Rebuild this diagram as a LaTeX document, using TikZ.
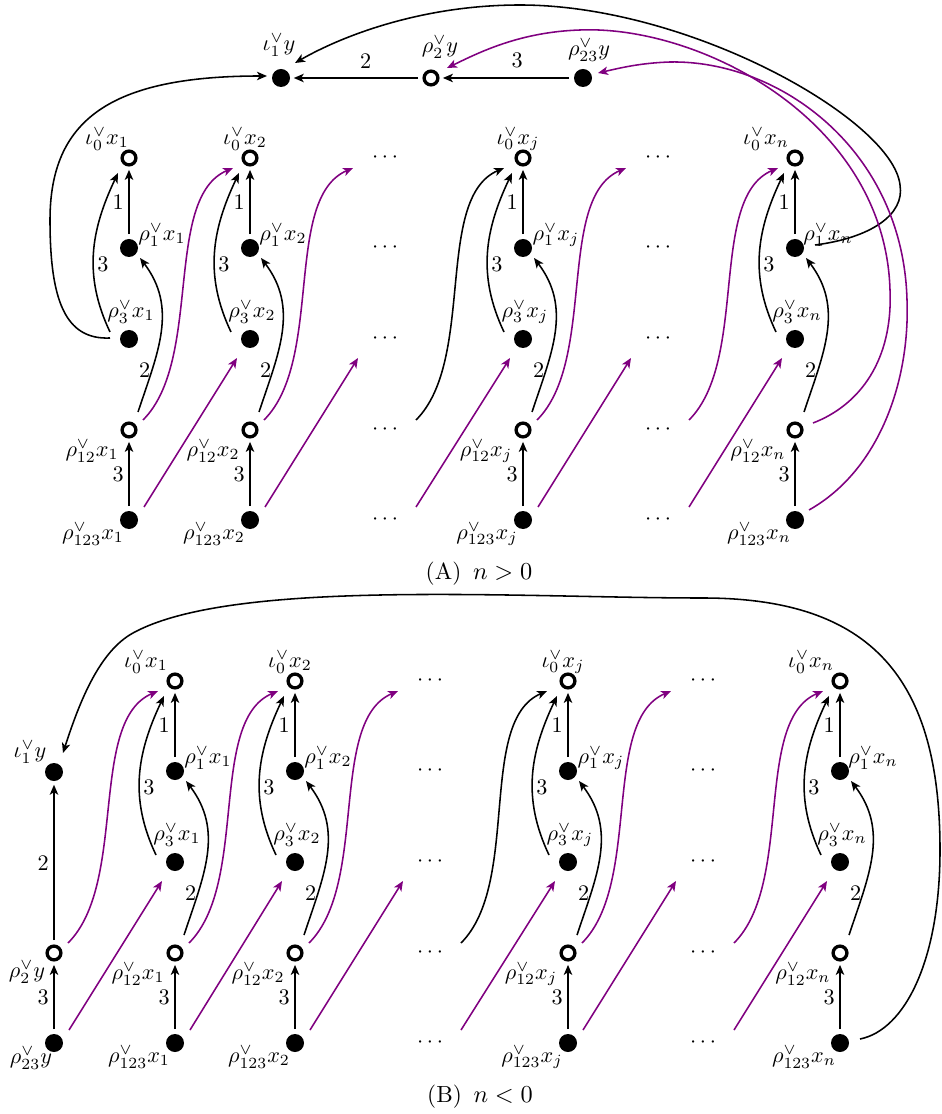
\documentclass[tikz,border=0pt]{standalone}
\usetikzlibrary{calc,arrows.meta}
\definecolor{mypurple}{RGB}{128,0,128}
\begin{document}
\begin{tikzpicture}[x=0.45pt,y=-0.45pt,
  fdot/.style={circle,fill=black,inner sep=0pt,minimum size=8.1pt},
  odot/.style={circle,draw=black,line width=1.5pt,fill=white,inner sep=0pt,minimum size=6.2pt},
  lab/.style={inner sep=0pt},
  dotsn/.style={inner sep=0pt},
  arr/.style={-{Stealth[length=4.5pt,width=3.8pt,inset=1.2pt]},line width=0.7pt},
  blk/.style={arr,black},
  pur/.style={arr,mypurple},
  elab/.style={inner sep=2pt,text=black},
  sh/.style={shorten <=2pt,shorten >=1.5pt},
  captxt/.style={font=\fontsize{10.5}{13}\selectfont},
]
\fill[white] (0,0) rectangle (941,1114);
\useasboundingbox (0,0) rectangle (941,1114);

% ---------- regular columns ----------
\foreach \pp/\yo/\cc/\xx/\io in {A/0/1/129/-22,A/0/2/250/-5,A/0/j/523/-5,A/0/n/795/-29,B/523/1/175/-29,B/523/2/295/-5,B/523/j/568/-5,B/523/n/840/-29}{
  \node[odot] (\pp-i0-\cc) at (\xx,158+\yo) {};
  \node[fdot] (\pp-r1-\cc) at (\xx,248+\yo) {};
  \node[fdot] (\pp-r3-\cc) at (\xx,339+\yo) {};
  \node[odot] (\pp-r12-\cc) at (\xx,430+\yo) {};
  \node[fdot] (\pp-r123-\cc) at (\xx,520+\yo) {};
  \node[lab] (\pp-i0-\cc-l) at ($(\pp-i0-\cc)+(\io,-19)$) {$\iota_0^\vee x_{\cc}$};
  \node[lab] (\pp-r1-\cc-l) at ($(\pp-r1-\cc)+(33,-13)$) {$\rho_1^\vee x_{\cc}$};
  \node[lab] (\pp-r3-\cc-l) at ($(\pp-r3-\cc)+(2,-27)$) {$\rho_3^\vee x_{\cc}$};
  \node[lab] (\pp-r12-\cc-l) at ($(\pp-r12-\cc)+(-37,21)$) {$\rho_{12}^\vee x_{\cc}$};
  \node[lab] (\pp-r123-\cc-l) at ($(\pp-r123-\cc)+(-36,14)$) {$\rho_{123}^\vee x_{\cc}$};
  \draw[blk,sh] (\pp-r1-\cc) -- node[elab,left] (\pp-e1-\cc) {1} (\pp-i0-\cc);
  \draw[blk] ($(\pp-r3-\cc)+(-19,-7)$) .. controls +(-27,-57) and +(-27,57) .. ($(\pp-i0-\cc)+(-11,15)$)
     node[elab,pos=0.42,right,inner sep=1.5pt] (\pp-e3-\cc) {3};
  \draw[blk] ($(\pp-r12-\cc)+(9,-18)$) .. controls +(20,-60) and +(38,50) .. ($(\pp-r1-\cc)+(11,10)$)
     node[elab,pos=0.25,left,inner sep=0.5pt] (\pp-e2-\cc) {2};
  \draw[blk,sh] (\pp-r123-\cc) -- node[elab,left] (\pp-e4-\cc) {3} (\pp-r12-\cc);
}

% ---------- dots columns ----------
\foreach \pp/\yo/\cc/\xx in {A/0/d1/385,A/0/d2/658,B/523/d1/430,B/523/d2/703}{
  \node[dotsn] (\pp-i0-\cc) at (\xx,158+\yo) {$\cdots$};
  \node[dotsn] (\pp-r1-\cc) at (\xx,248+\yo) {$\cdots$};
  \node[dotsn] (\pp-r3-\cc) at (\xx,339+\yo) {$\cdots$};
  \node[dotsn] (\pp-r12-\cc) at (\xx,430+\yo) {$\cdots$};
  \node[dotsn] (\pp-r123-\cc) at (\xx,520+\yo) {$\cdots$};
}

% ---------- edges between columns ----------
\foreach \pp/\ff/\tt/\sa/\sb/\ea/\eb/\cl in {
  A/1/2/14/15/-17/-13/mypurple,
  A/2/d1/14/15/-32/-27/mypurple,
  A/d1/j/31/31/-19/-13/black,
  A/j/d2/14/15/-32/-27/mypurple,
  A/d2/n/31/31/-17/-13/mypurple,
  B/1/2/14/15/-17/-13/mypurple,
  B/2/d1/14/15/-32/-27/mypurple,
  B/d1/j/31/31/-21/-13/black,
  B/j/d2/14/15/-32/-27/mypurple,
  B/d2/n/31/31/-17/-13/mypurple}{
  \draw[arr,color=\cl] ($(\pp-r12-\ff)+(\sa,-10)$) .. controls +(60,-60) and +(-70,30) .. ($(\pp-i0-\tt)+(\ea,10)$);
  \draw[pur] ($(\pp-r123-\ff)+(\sb,-13)$) -- ($(\pp-r3-\tt)+(\eb,19)$);
}

% ---------- (A) top row ----------
\node[fdot] (A-iy) at (281,78) {};
\node[odot] (A-r2y) at (431,78) {};
\node[fdot] (A-r23y) at (583,78) {};
\node[lab] (A-iy-l) at ($(A-iy)+(-2,-33)$) {$\iota_1^\vee y$};
\node[lab] (A-r2y-l) at ($(A-r2y)+(9,-31)$) {$\rho_2^\vee y$};
\node[lab] (A-r23y-l) at ($(A-r23y)+(6,-28)$) {$\rho_{23}^\vee y$};
\draw[blk,sh] (A-r2y) -- node[elab,above,pos=0.43,inner sep=4pt] (A-ey2) {2} (A-iy);
\draw[blk,sh] (A-r23y) -- node[elab,above,pos=0.42,inner sep=4pt] (A-ey3) {3} (A-r2y);

% long arcs of (A)
\draw[blk] ($(A-r3-1)+(-19,-1)$) .. controls (65,340) and (50,300) .. (50,220)
   .. controls (50,120) and (110,76) .. ($(A-iy)+(-14,-2)$);
\draw[blk] ($(A-r1-n)+(20,-3)$) .. controls (870,238) and (905,215) .. (900,185)
   .. controls (893,120) and (690,5) .. (520,5)
   .. controls (420,5) and (340,37) .. ($(A-iy)+(14,-15)$);
\draw[pur] ($(A-r12-n)+(18,-7)$) .. controls (860,405) and (893,360) .. (890,290)
   .. controls (885,120) and (700,25) .. (580,30)
   .. controls (520,32) and (480,52) .. ($(A-r2y)+(16,-10)$);
\draw[pur] ($(A-r123-n)+(14,-10)$) .. controls (880,470) and (910,380) .. (907,300)
   .. controls (903,150) and (780,60) .. (670,62)
   .. controls (640,63) and (620,68) .. ($(A-r23y)+(15,-5)$);

\node[captxt] (capA) at (479,574) {(A)\enspace$n>0$};

% ---------- (B) y column ----------
\node[fdot] (B-iy) at (54,772) {};
\node[odot] (B-r2y) at (54,953) {};
\node[fdot] (B-r23y) at (54,1043) {};
\node[lab] (B-iy-l) at ($(B-iy)+(-24,-20)$) {$\iota_1^\vee y$};
\node[lab] (B-r2y-l) at ($(B-r2y)+(-27,19)$) {$\rho_2^\vee y$};
\node[lab] (B-r23y-l) at ($(B-r23y)+(-23,15)$) {$\rho_{23}^\vee y$};
\draw[blk,sh] (B-r2y) -- node[elab,left] (B-ey2) {2} (B-iy);
\draw[blk,sh] (B-r23y) -- node[elab,left] (B-ey3) {3} (B-r2y);
\draw[pur] ($(B-r2y)+(14,-10)$) .. controls +(60,-60) and +(-70,30) .. ($(B-i0-1)+(-17,10)$);
\draw[pur] ($(B-r23y)+(15,-13)$) -- ($(B-r3-1)+(-13,19)$);

% long arc of (B)
\draw[blk] ($(B-r123-n)+(20,-4)$) .. controls (905,1030) and (940,960) .. (940,850)
   .. controls (940,679) and (872,598) .. (703,598)
   .. controls (520,598) and (233,578) .. (133,633)
   .. controls (100,651) and (80,700) .. ($(B-iy)+(9,-19)$);

\node[captxt] (capB) at (480,1097) {(B)\enspace$n<0$};
\end{tikzpicture}
\end{document}
